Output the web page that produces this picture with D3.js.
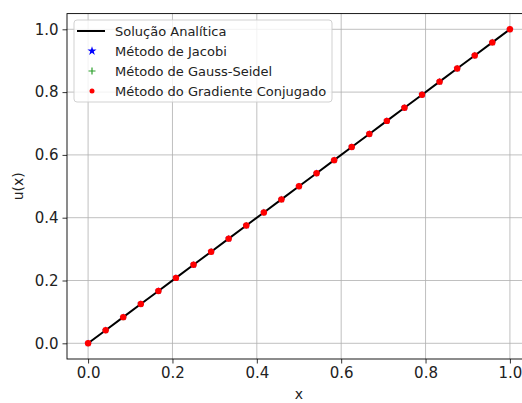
<!DOCTYPE html>
<html>
<head>
<meta charset="utf-8">
<script src="https://cdn.jsdelivr.net/npm/d3@7"></script>
<style>
  body { margin: 0; background: #fff; }
  svg { display: block; font-family: "DejaVu Sans", sans-serif; }
</style>
</head>
<body>
<div id="chart"></div>
<script>
// Grid points x_i = i/24 and the solution values
const xValues = [0.0, 0.0417, 0.0833, 0.125, 0.1667, 0.2083, 0.25, 0.2917, 0.3333, 0.375, 0.4167, 0.4583, 0.5,
    0.5417, 0.5833, 0.625, 0.6667, 0.7083, 0.75, 0.7917, 0.8333, 0.875, 0.9167, 0.9583, 1.0];
const analytic = [0.0, 0.0417, 0.0833, 0.125, 0.1667, 0.2083, 0.25, 0.2917, 0.3333, 0.375, 0.4167, 0.4583, 0.5,
    0.5417, 0.5833, 0.625, 0.6667, 0.7083, 0.75, 0.7917, 0.8333, 0.875, 0.9167, 0.9583, 1.0];
const jacobi = [0.0, 0.0417, 0.0833, 0.125, 0.1667, 0.2083, 0.25, 0.2917, 0.3333, 0.375, 0.4167, 0.4583, 0.5,
    0.5417, 0.5833, 0.625, 0.6667, 0.7083, 0.75, 0.7917, 0.8333, 0.875, 0.9167, 0.9583, 1.0];
const gaussSeidel = [0.0, 0.0417, 0.0833, 0.125, 0.1667, 0.2083, 0.25, 0.2917, 0.3333, 0.375, 0.4167, 0.4583, 0.5,
    0.5417, 0.5833, 0.625, 0.6667, 0.7083, 0.75, 0.7917, 0.8333, 0.875, 0.9167, 0.9583, 1.0];
const gradConj = [0.0, 0.0417, 0.0833, 0.125, 0.1667, 0.2083, 0.25, 0.2917, 0.3333, 0.375, 0.4167, 0.4583, 0.5,
    0.5417, 0.5833, 0.625, 0.6667, 0.7083, 0.75, 0.7917, 0.8333, 0.875, 0.9167, 0.9583, 1.0];
const tickValues = [0.0, 0.2, 0.4, 0.6, 0.8, 1.0];
const legendLabels = ["Solução Analítica", "Método de Jacobi", "Método de Gauss-Seidel", "Método do Gradiente Conjugado"];

const W = 522, H = 403;
const plot = { left: 67, right: 531, top: 13.6, bottom: 359 };

const svg = d3.select("#chart").append("svg")
    .attr("width", W)
    .attr("height", H);

const x = d3.scaleLinear().domain([-0.05, 1.05]).range([plot.left, plot.right]);
const y = d3.scaleLinear().domain([-0.05, 1.05]).range([plot.bottom, plot.top]);

// grid
const grid = svg.append("g");
tickValues.forEach(t => {
    grid.append("line")
        .attr("x1", x(t)).attr("x2", x(t))
        .attr("y1", plot.top).attr("y2", plot.bottom)
        .attr("stroke", "#b0b0b0").attr("stroke-width", 0.8);
    grid.append("line")
        .attr("x1", plot.left).attr("x2", plot.right)
        .attr("y1", y(t)).attr("y2", y(t))
        .attr("stroke", "#b0b0b0").attr("stroke-width", 0.8);
});

// axes
const xAxis = svg.append("g")
    .attr("transform", `translate(0,${plot.bottom})`)
    .call(d3.axisBottom(x).tickValues(tickValues).tickFormat(d3.format(".1f")).tickSize(4.5).tickPadding(4));
const yAxis = svg.append("g")
    .attr("transform", `translate(${plot.left},0)`)
    .call(d3.axisLeft(y).tickValues(tickValues).tickFormat(d3.format(".1f")).tickSize(4.5).tickPadding(4));

[xAxis, yAxis].forEach(a => {
    a.select(".domain").remove();
    a.selectAll(".tick line").attr("stroke", "#000").attr("stroke-width", 0.8);
    a.selectAll(".tick text")
        .attr("fill", "#222")
        .style("font-size", "15px")
        .style("font-family", "DejaVu Sans, sans-serif");
});

// frame
svg.append("rect")
    .attr("x", plot.left).attr("y", plot.top)
    .attr("width", plot.right - plot.left).attr("height", plot.bottom - plot.top)
    .attr("fill", "none").attr("stroke", "#000").attr("stroke-width", 0.9);

// axis labels
svg.append("text")
    .attr("x", x(0.5)).attr("y", 399)
    .attr("text-anchor", "middle")
    .style("font-size", "14px").attr("fill", "#222")
    .text("x");
svg.append("text")
    .attr("transform", `translate(23,${y(0.5)}) rotate(-90)`)
    .attr("text-anchor", "middle")
    .style("font-size", "14px").attr("fill", "#222")
    .text("u(x)");

// analytic line
const line = d3.line().x(d => x(d[0])).y(d => y(d[1]));
svg.append("path")
    .attr("d", line(xValues.map((v, i) => [v, analytic[i]])))
    .attr("fill", "none").attr("stroke", "#000").attr("stroke-width", 2);

const star = d3.symbol().type(d3.symbolStar).size(17);
const legendStar = d3.symbol().type(d3.symbolStar).size(26);
const plusPath = "M-3,0H3M0,-3V3";

// Jacobi: blue stars
svg.append("g").selectAll("path")
    .data(xValues.map((v, i) => [v, jacobi[i]]))
    .join("path")
    .attr("transform", d => `translate(${x(d[0])},${y(d[1])})`)
    .attr("d", star)
    .attr("fill", "blue");

// Gauss-Seidel: green plus
svg.append("g").selectAll("path")
    .data(xValues.map((v, i) => [v, gaussSeidel[i]]))
    .join("path")
    .attr("transform", d => `translate(${x(d[0])},${y(d[1])})`)
    .attr("d", plusPath)
    .attr("stroke", "#2ca02c").attr("stroke-width", 1.2);

// Gradiente Conjugado: red dots
svg.append("g").selectAll("circle")
    .data(xValues.map((v, i) => [v, gradConj[i]]))
    .join("circle")
    .attr("cx", d => x(d[0])).attr("cy", d => y(d[1]))
    .attr("r", 3.2)
    .attr("fill", "red");

// legend
const legend = svg.append("g").attr("transform", "translate(74,20)");
legend.append("rect")
    .attr("width", 258).attr("height", 82)
    .attr("rx", 3)
    .attr("fill", "white").attr("fill-opacity", 0.8)
    .attr("stroke", "#cccccc").attr("stroke-width", 0.9);

legendLabels.forEach((label, i) => {
    const cy = 11 + i * 20;
    const row = legend.append("g").attr("transform", `translate(0,${cy})`);
    if (i === 0) {
        row.append("line").attr("x1", 3).attr("x2", 31).attr("stroke", "#000").attr("stroke-width", 2);
    } else if (i === 1) {
        row.append("path").attr("transform", "translate(18,0)").attr("d", legendStar).attr("fill", "blue");
    } else if (i === 2) {
        row.append("path").attr("transform", "translate(18,0)").attr("d", "M-3.5,0H3.5M0,-3.5V3.5")
            .attr("stroke", "#2ca02c").attr("stroke-width", 1.2);
    } else {
        row.append("circle").attr("cx", 18).attr("r", 2.5).attr("fill", "red");
    }
    row.append("text")
        .attr("x", 41).attr("dy", "0.35em")
        .style("font-size", "13px").attr("fill", "#222")
        .text(label);
});
</script>
</body>
</html>
